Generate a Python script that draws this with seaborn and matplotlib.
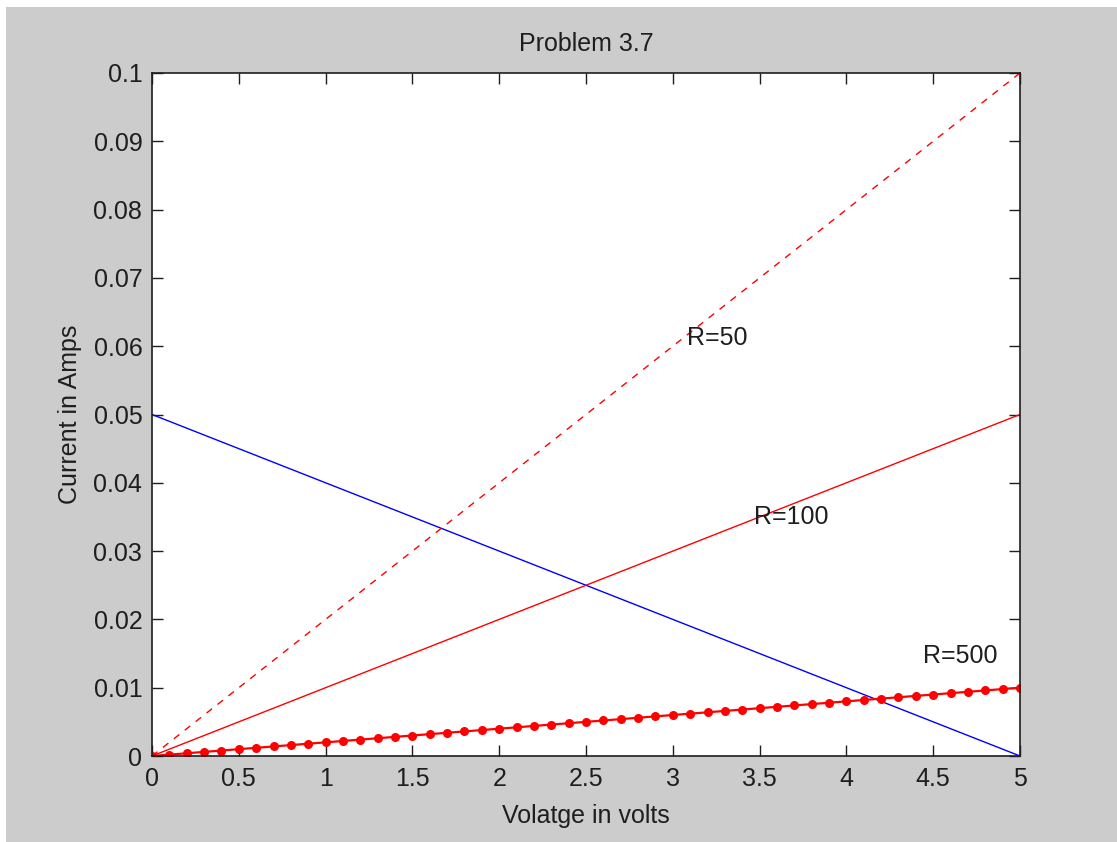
import matplotlib
matplotlib.use("Agg")
import matplotlib.pyplot as plt
import seaborn as sns

# voltage sweep (volts) used for the R=500 curve with markers
volts = [0.0, 0.1, 0.2, 0.3, 0.4, 0.5, 0.6, 0.7, 0.8, 0.9,
         1.0, 1.1, 1.2, 1.3, 1.4, 1.5, 1.6, 1.7, 1.8, 1.9,
         2.0, 2.1, 2.2, 2.3, 2.4, 2.5, 2.6, 2.7, 2.8, 2.9,
         3.0, 3.1, 3.2, 3.3, 3.4, 3.5, 3.6, 3.7, 3.8, 3.9,
         4.0, 4.1, 4.2, 4.3, 4.4, 4.5, 4.6, 4.7, 4.8, 4.9, 5.0]
i_r500 = [0.0, 0.0002, 0.0004, 0.0006, 0.0008, 0.0010, 0.0012, 0.0014, 0.0016, 0.0018,
          0.0020, 0.0022, 0.0024, 0.0026, 0.0028, 0.0030, 0.0032, 0.0034, 0.0036, 0.0038,
          0.0040, 0.0042, 0.0044, 0.0046, 0.0048, 0.0050, 0.0052, 0.0054, 0.0056, 0.0058,
          0.0060, 0.0062, 0.0064, 0.0066, 0.0068, 0.0070, 0.0072, 0.0074, 0.0076, 0.0078,
          0.0080, 0.0082, 0.0084, 0.0086, 0.0088, 0.0090, 0.0092, 0.0094, 0.0096, 0.0098, 0.0100]

# straight lines only need their end points
v_ends = [0, 5]
i_r50 = [0, 0.1]
i_r100 = [0, 0.05]
i_load = [0.05, 0]

labels = ["R=50", "R=100", "R=500"]
label_x = [3.08, 3.47, 4.44]
label_y = [0.0612, 0.0350, 0.0146]

xticks = [0, 0.5, 1, 1.5, 2, 2.5, 3, 3.5, 4, 4.5, 5]
xticklabels = ["0", "0.5", "1", "1.5", "2", "2.5", "3", "3.5", "4", "4.5", "5"]
yticks = [0, 0.01, 0.02, 0.03, 0.04, 0.05, 0.06, 0.07, 0.08, 0.09, 0.1]
yticklabels = ["0", "0.01", "0.02", "0.03", "0.04", "0.05", "0.06", "0.07", "0.08", "0.09", "0.1"]

sns.set_style("ticks")
plt.rcParams['font.family'] = ['Liberation Sans', 'DejaVu Sans']

bg = "#cccccc"
ink = "#1e1e1e"
fs = 18
fig = plt.figure(figsize=(11.17, 8.42), dpi=100, facecolor=bg)
ax = fig.add_axes([152 / 1117, 1 - 756 / 842, 868 / 1117, 683 / 842])
ax.set_facecolor("white")

# thin white strips at the top and left of the window
fig.patches.append(plt.Rectangle((0, 0), 6 / 1117, 1, transform=fig.transFigure,
                                 facecolor="white", edgecolor="none", zorder=0))
fig.patches.append(plt.Rectangle((0, 1 - 7 / 842), 1, 7 / 842, transform=fig.transFigure,
                                 facecolor="white", edgecolor="none", zorder=0))

lw = 1.0
sns.lineplot(x=v_ends, y=i_load, ax=ax, color="blue", linewidth=lw)
sns.lineplot(x=v_ends, y=i_r50, ax=ax, color="red", linewidth=lw, linestyle=(0, (5, 5)))
sns.lineplot(x=v_ends, y=i_r100, ax=ax, color="red", linewidth=lw)
sns.lineplot(x=volts, y=i_r500, ax=ax, color="red", linewidth=1.6,
             marker="o", markersize=6.5, markeredgewidth=0)

for t, x, y in zip(labels, label_x, label_y):
    ax.text(x, y, t, fontsize=fs, ha="left", va="center", color=ink)

ax.set_xlim(0, 5)
ax.set_ylim(0, 0.1)
ax.set_xticks(xticks)
ax.set_xticklabels(xticklabels)
ax.set_yticks(yticks)
ax.set_yticklabels(yticklabels)
ax.tick_params(direction="in", length=8, width=1, top=True, right=True,
               labelsize=fs, color=ink, labelcolor=ink)
ax.tick_params(axis="y", pad=7)
ax.tick_params(axis="x", pad=8)
for s in ax.spines.values():
    s.set_visible(True)
    s.set_linewidth(1.2)
    s.set_color(ink)

ax.set_title("Problem 3.7", fontsize=fs, color=ink, pad=16)
ax.set_xlabel("Volatge in volts", fontsize=fs, color=ink, labelpad=9)
ax.set_ylabel("Current in Amps", fontsize=fs, color=ink, labelpad=8)

fig.savefig("out.png", dpi=100, facecolor=bg)
